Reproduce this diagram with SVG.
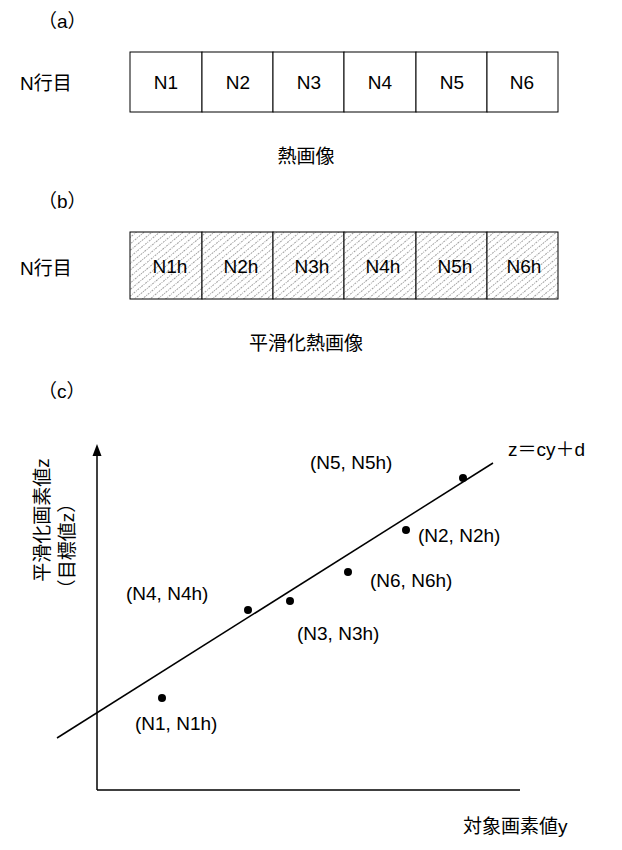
<svg xmlns="http://www.w3.org/2000/svg" width="622" height="850" viewBox="0 0 622 850">
<style>
text{font-family:"Liberation Sans","Noto Sans CJK JP",sans-serif;font-size:19px;fill:#000}
.c{text-anchor:middle}
.cell{fill:#fff;stroke:#000;stroke-width:1}
.h{fill:url(#hatch);stroke:#000;stroke-width:1}
</style>
<defs>
<pattern id="hatch" width="5" height="5" patternUnits="userSpaceOnUse" patternTransform="rotate(-40)">
<rect width="5" height="5" fill="#fff"/>
<line x1="0" y1="0" x2="5" y2="0" stroke="#444" stroke-width="1" stroke-dasharray="1,1"/>
</pattern>
<marker id="ar" markerWidth="8" markerHeight="8" refX="4" refY="4" orient="auto"><path d="M0,1 L8,4 L0,7 z" fill="#000"/></marker>
</defs>
<text x="38" y="28">（a）</text>
<text x="20" y="90">N行目</text>
<g id="rowA">
<rect class="cell" x="130" y="52" width="72" height="60"/><text class="c" x="166" y="89">N1</text>
<rect class="cell" x="202" y="52" width="71" height="60"/><text class="c" x="238" y="89">N2</text>
<rect class="cell" x="273" y="52" width="71" height="60"/><text class="c" x="309" y="89">N3</text>
<rect class="cell" x="344" y="52" width="72" height="60"/><text class="c" x="380" y="89">N4</text>
<rect class="cell" x="416" y="52" width="71" height="60"/><text class="c" x="452" y="89">N5</text>
<rect class="cell" x="487" y="52" width="71" height="60"/><text class="c" x="522" y="89">N6</text>
</g>
<text class="c" x="306" y="163">熱画像</text>
<text x="38" y="208">（b）</text>
<text x="20" y="275">N行目</text>
<g id="rowB">
<rect class="h" x="130" y="232" width="72" height="67"/><text class="c" x="170" y="273">N1h</text>
<rect class="h" x="202" y="232" width="71" height="67"/><text class="c" x="241" y="273">N2h</text>
<rect class="h" x="273" y="232" width="71" height="67"/><text class="c" x="312" y="273">N3h</text>
<rect class="h" x="344" y="232" width="72" height="67"/><text class="c" x="383" y="273">N4h</text>
<rect class="h" x="416" y="232" width="71" height="67"/><text class="c" x="455" y="273">N5h</text>
<rect class="h" x="487" y="232" width="71" height="67"/><text class="c" x="524" y="273">N6h</text>
</g>
<text class="c" x="306" y="350">平滑化熱画像</text>
<text x="38" y="398">（c）</text>
<g id="connectors">
<line x1="97" y1="790" x2="97" y2="450" stroke="#000" stroke-width="1.5" marker-end="url(#ar)"/>
<line x1="97" y1="790" x2="520" y2="790" stroke="#000" stroke-width="1.5"/>
<line x1="57" y1="738" x2="493" y2="463" stroke="#000" stroke-width="1.5"/>
</g>
<text class="c" transform="translate(49,520) rotate(-90)">平滑化画素値z</text>
<text class="c" transform="translate(74,546) rotate(-90)">（目標値z）</text>
<text x="508" y="456">z＝cy＋d</text>
<g id="points">
<circle cx="463" cy="478" r="4"/><text x="310" y="469">(N5, N5h)</text>
<circle cx="406" cy="530" r="4"/><text x="418" y="542">(N2, N2h)</text>
<circle cx="348" cy="572" r="4"/><text x="370" y="587">(N6, N6h)</text>
<circle cx="290" cy="601" r="4"/><text x="297" y="640">(N3, N3h)</text>
<circle cx="248" cy="610" r="4"/><text x="126" y="600">(N4, N4h)</text>
<circle cx="162" cy="698" r="4"/><text x="135" y="730">(N1, N1h)</text>
</g>
<text x="463" y="833">対象画素値y</text>
</svg>
